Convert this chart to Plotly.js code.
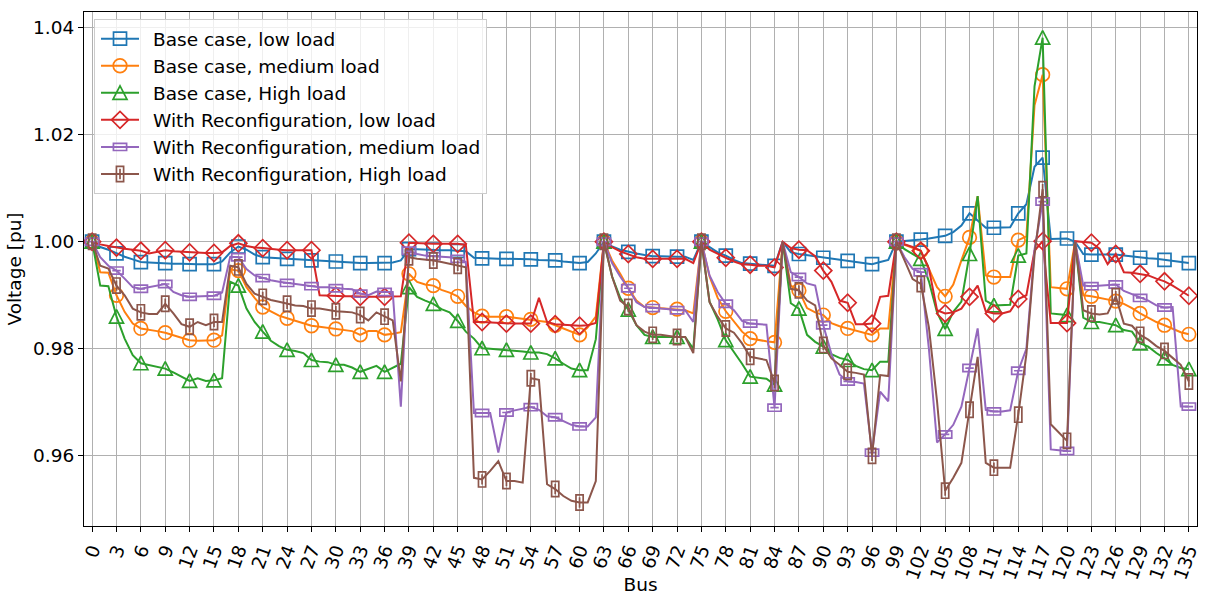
<!DOCTYPE html>
<html>
<head>
<meta charset="utf-8">
<script src="https://cdn.plot.ly/plotly-3.0.1.min.js"></script>
<style>
  html, body { margin: 0; padding: 0; background: #fff; }
  #chart { width: 1207px; height: 595px; }
</style>
</head>
<body>
<div id="chart"></div>
<script>
// Bus numbers 0..135 along the feeder
const bus = [];
for (let b = 0; b <= 135; b++) bus.push(b);

// Labelled ticks every third bus
const xTickVals = bus.filter(b => b % 3 === 0);
const yTickVals = [0.96, 0.98, 1.00, 1.02, 1.04];
const yTickText = ['0.96', '0.98', '1.00', '1.02', '1.04'];

const seriesNames = [
  'Base case, low load',
  'Base case, medium load',
  'Base case, High load',
  'With Reconfiguration, low load',
  'With Reconfiguration, medium load',
  'With Reconfiguration, High load'
];

// Bus voltages [pu]
const baseLow = [
  1.0000, 0.9990, 0.9985, 0.9978, 0.9972, 0.9967, 0.9962, 0.9961, 0.9960, 0.9960,
  0.9959, 0.9959, 0.9958, 0.9958, 0.9958, 0.9958, 0.9963, 0.9980, 0.9991, 0.9985,
  0.9976, 0.9971, 0.9970, 0.9969, 0.9968, 0.9967, 0.9966, 0.9965, 0.9964, 0.9963,
  0.9963, 0.9962, 0.9961, 0.9960, 0.9960, 0.9960, 0.9960, 0.9961, 0.9965, 0.9986,
  0.9986, 0.9985, 0.9985, 0.9984, 0.9984, 0.9983, 0.9982, 0.9970, 0.9969, 0.9969,
  0.9968, 0.9968, 0.9968, 0.9967, 0.9967, 0.9966, 0.9966, 0.9965, 0.9963, 0.9961,
  0.9960, 0.9962, 0.9978, 1.0000, 0.9991, 0.9985, 0.9981, 0.9978, 0.9975, 0.9973,
  0.9973, 0.9972, 0.9972, 0.9972, 0.9966, 1.0000, 0.9990, 0.9980, 0.9974, 0.9966,
  0.9960, 0.9959, 0.9958, 0.9957, 0.9955, 1.0000, 0.9980, 0.9977, 0.9975, 0.9972,
  0.9970, 0.9968, 0.9966, 0.9964, 0.9962, 0.9960, 0.9958, 0.9962, 0.9966, 1.0000,
  1.0001, 1.0003, 1.0004, 1.0006, 1.0008, 1.0011, 1.0018, 1.0030, 1.0053, 1.0040,
  1.0026, 1.0026, 1.0026, 1.0027, 1.0053, 1.0070, 1.0140, 1.0157, 1.0005, 1.0005,
  1.0006, 1.0000, 0.9977, 0.9976, 0.9976, 0.9975, 0.9976, 0.9974, 0.9972, 0.9970,
  0.9969, 0.9968, 0.9966, 0.9965, 0.9962, 0.9960
];

const baseMed = [
  1.0000, 0.9943, 0.9942, 0.9900, 0.9869, 0.9847, 0.9838, 0.9836, 0.9833, 0.9830,
  0.9825, 0.9820, 0.9816, 0.9815, 0.9815, 0.9816, 0.9825, 0.9948, 0.9946, 0.9915,
  0.9895, 0.9878, 0.9870, 0.9862, 0.9857, 0.9852, 0.9847, 0.9843, 0.9841, 0.9839,
  0.9837, 0.9835, 0.9833, 0.9826, 0.9833, 0.9833, 0.9826, 0.9828, 0.9831, 0.9940,
  0.9925, 0.9920, 0.9918, 0.9910, 0.9905, 0.9898, 0.9880, 0.9868, 0.9861, 0.9860,
  0.9860, 0.9860, 0.9858, 0.9856, 0.9855, 0.9853, 0.9850, 0.9844, 0.9838, 0.9832,
  0.9826, 0.9840, 0.9860, 1.0000, 0.9965, 0.9940, 0.9913, 0.9890, 0.9878, 0.9877,
  0.9876, 0.9875, 0.9874, 0.9872, 0.9866, 1.0000, 0.9935, 0.9895, 0.9870, 0.9850,
  0.9832, 0.9819, 0.9816, 0.9814, 0.9812, 1.0000, 0.9918, 0.9909, 0.9876, 0.9868,
  0.9863, 0.9848, 0.9842, 0.9838, 0.9833, 0.9829, 0.9826, 0.9838, 0.9838, 1.0000,
  0.9994, 0.9989, 0.9983, 0.9949, 0.9915, 0.9898, 0.9920, 0.9965, 1.0008, 1.0085,
  0.9937, 0.9934, 0.9934, 0.9934, 1.0003, 1.0010, 1.0255, 1.0312, 0.9915, 0.9914,
  0.9912, 1.0000, 0.9900, 0.9898, 0.9895, 0.9892, 0.9889, 0.9884, 0.9876, 0.9866,
  0.9858, 0.9850, 0.9844, 0.9838, 0.9831, 0.9827
];

const baseHigh = [
  1.0000, 0.9918, 0.9917, 0.9860, 0.9819, 0.9788, 0.9773, 0.9770, 0.9767, 0.9763,
  0.9756, 0.9748, 0.9740, 0.9745, 0.9740, 0.9741, 0.9745, 0.9925, 0.9918, 0.9875,
  0.9850, 0.9832, 0.9815, 0.9805, 0.9798, 0.9796, 0.9792, 0.9779, 0.9776, 0.9775,
  0.9770, 0.9770, 0.9765, 0.9757, 0.9763, 0.9768, 0.9757, 0.9765, 0.9772, 0.9915,
  0.9897, 0.9890, 0.9884, 0.9874, 0.9868, 0.9852, 0.9832, 0.9819, 0.9801, 0.9800,
  0.9799, 0.9798, 0.9796, 0.9795, 0.9793, 0.9793, 0.9790, 0.9782, 0.9772, 0.9763,
  0.9760, 0.9760, 0.9818, 1.0000, 0.9935, 0.9895, 0.9873, 0.9844, 0.9826, 0.9822,
  0.9822, 0.9822, 0.9822, 0.9822, 0.9800, 1.0000, 0.9888, 0.9855, 0.9816, 0.9795,
  0.9772, 0.9748, 0.9746, 0.9744, 0.9733, 1.0000, 0.9885, 0.9875, 0.9826, 0.9813,
  0.9804, 0.9790, 0.9783, 0.9779, 0.9768, 0.9762, 0.9760, 0.9776, 0.9776, 1.0000,
  0.9986, 0.9977, 0.9968, 0.9926, 0.9868, 0.9837, 0.9869, 0.9888, 0.9977, 1.0085,
  0.9890, 0.9881, 0.9881, 0.9882, 0.9974, 0.9978, 1.0290, 1.0381, 0.9866, 0.9865,
  0.9863, 1.0000, 0.9858, 0.9850, 0.9850, 0.9847, 0.9844, 0.9835, 0.9832, 0.9810,
  0.9804, 0.9792, 0.9782, 0.9770, 0.9764, 0.9762
];

const reconfLow = [
  1.0000, 0.9995, 0.9992, 0.9989, 0.9987, 0.9985, 0.9983, 0.9978, 0.9981, 0.9984,
  0.9982, 0.9981, 0.9980, 0.9979, 0.9979, 0.9979, 0.9980, 0.9992, 0.9997, 0.9992,
  0.9989, 0.9988, 0.9986, 0.9985, 0.9984, 0.9984, 0.9984, 0.9984, 0.9900, 0.9899,
  0.9899, 0.9898, 0.9898, 0.9897, 0.9897, 0.9897, 0.9897, 0.9898, 0.9898, 0.9998,
  0.9997, 0.9996, 0.9996, 0.9996, 0.9996, 0.9996, 0.9994, 0.9850, 0.9850, 0.9849,
  0.9848, 0.9847, 0.9847, 0.9847, 0.9847, 0.9895, 0.9850, 0.9846, 0.9845, 0.9844,
  0.9843, 0.9844, 0.9848, 1.0000, 0.9990, 0.9982, 0.9977, 0.9971, 0.9968, 0.9968,
  0.9968, 0.9968, 0.9968, 0.9968, 0.9960, 1.0000, 0.9985, 0.9977, 0.9970, 0.9963,
  0.9958, 0.9957, 0.9955, 0.9955, 0.9952, 1.0000, 0.9988, 0.9985, 0.9984, 0.9973,
  0.9946, 0.9925, 0.9890, 0.9886, 0.9846, 0.9846, 0.9847, 0.9897, 0.9899, 1.0000,
  0.9995, 0.9990, 0.9983, 0.9950, 0.9872, 0.9866, 0.9868, 0.9875, 0.9897, 0.9918,
  0.9870, 0.9866, 0.9866, 0.9870, 0.9893, 0.9900, 0.9983, 1.0001, 0.9848, 0.9848,
  0.9848, 1.0001, 0.9999, 0.9998, 0.9987, 0.9958, 0.9977, 0.9943, 0.9942, 0.9940,
  0.9937, 0.9931, 0.9926, 0.9918, 0.9909, 0.9899
];

const reconfMed = [
  1.0000, 0.9971, 0.9955, 0.9946, 0.9931, 0.9915, 0.9912, 0.9915, 0.9918, 0.9921,
  0.9906, 0.9900, 0.9897, 0.9898, 0.9899, 0.9899, 0.9905, 0.9972, 0.9971, 0.9949,
  0.9937, 0.9932, 0.9928, 0.9925, 0.9923, 0.9921, 0.9919, 0.9917, 0.9915, 0.9915,
  0.9913, 0.9912, 0.9911, 0.9903, 0.9900, 0.9907, 0.9906, 0.9906, 0.9692, 0.9983,
  0.9977, 0.9974, 0.9973, 0.9972, 0.9971, 0.9968, 0.9962, 0.9680, 0.9680, 0.9680,
  0.9606, 0.9681, 0.9685, 0.9688, 0.9691, 0.9686, 0.9674, 0.9672, 0.9665, 0.9658,
  0.9655, 0.9655, 0.9672, 1.0000, 0.9960, 0.9935, 0.9913, 0.9887, 0.9878, 0.9876,
  0.9875, 0.9874, 0.9872, 0.9872, 0.9850, 1.0000, 0.9937, 0.9906, 0.9884, 0.9872,
  0.9852, 0.9847, 0.9846, 0.9845, 0.9690, 1.0000, 0.9943, 0.9934, 0.9922, 0.9918,
  0.9844, 0.9790, 0.9752, 0.9739, 0.9738, 0.9735, 0.9606, 0.9720, 0.9702, 1.0000,
  0.9971, 0.9949, 0.9943, 0.9800, 0.9625, 0.9640, 0.9658, 0.9692, 0.9764, 0.9838,
  0.9686, 0.9683, 0.9683, 0.9685, 0.9759, 0.9800, 0.9985, 1.0075, 0.9612, 0.9610,
  0.9609, 1.0000, 0.9918, 0.9917, 0.9918, 0.9919, 0.9920, 0.9908, 0.9902, 0.9895,
  0.9890, 0.9881, 0.9877, 0.9878, 0.9692, 0.9692
];

const reconfHigh = [
  1.0000, 0.9955, 0.9950, 0.9918, 0.9900, 0.9875, 0.9868, 0.9865, 0.9865, 0.9884,
  0.9866, 0.9846, 0.9841, 0.9850, 0.9844, 0.9850, 0.9850, 0.9955, 0.9952, 0.9921,
  0.9903, 0.9897, 0.9891, 0.9888, 0.9884, 0.9881, 0.9880, 0.9875, 0.9875, 0.9872,
  0.9870, 0.9869, 0.9868, 0.9863, 0.9853, 0.9868, 0.9860, 0.9853, 0.9739, 0.9971,
  0.9968, 0.9967, 0.9965, 0.9962, 0.9959, 0.9955, 0.9952, 0.9559, 0.9556, 0.9572,
  0.9590, 0.9553, 0.9553, 0.9550, 0.9745, 0.9742, 0.9547, 0.9538, 0.9525, 0.9516,
  0.9513, 0.9513, 0.9553, 1.0000, 0.9935, 0.9890, 0.9878, 0.9844, 0.9832, 0.9826,
  0.9826, 0.9824, 0.9822, 0.9822, 0.9792, 1.0000, 0.9887, 0.9860, 0.9838, 0.9830,
  0.9810, 0.9785, 0.9782, 0.9779, 0.9736, 1.0000, 0.9912, 0.9909, 0.9890, 0.9881,
  0.9807, 0.9782, 0.9770, 0.9757, 0.9755, 0.9752, 0.9600, 0.9751, 0.9749, 1.0000,
  0.9965, 0.9930, 0.9921, 0.9840, 0.9702, 0.9535, 0.9559, 0.9587, 0.9686, 0.9785,
  0.9587, 0.9578, 0.9578, 0.9578, 0.9677, 0.9790, 0.9975, 1.0098, 0.9659, 0.9643,
  0.9628, 1.0000, 0.9872, 0.9866, 0.9864, 0.9866, 0.9898, 0.9847, 0.9843, 0.9826,
  0.9817, 0.9805, 0.9796, 0.9783, 0.9770, 0.9739
];

const seriesValues = [baseLow, baseMed, baseHigh, reconfLow, reconfMed, reconfHigh];
const seriesColors = ['#1f77b4', '#ff7f0e', '#2ca02c', '#d62728', '#9467bd', '#8c564b'];
const seriesShapes = ['square', 'circle', 'triangle', 'diamond', 'wide', 'tall'];

// Outline paths for the open markers (centred on the point)
const MARKER_PATHS = {
  square:   'M6.5,6.5H-6.5V-6.5H6.5Z',
  circle:   'M6.8,0A6.8,6.8 0 1,1 0,-6.8A6.8,6.8 0 0,1 6.8,0Z',
  triangle: 'M0,-7L7,6.5H-7Z',
  diamond:  'M8.5,0L0,8.5L-8.5,0L0,-8.5Z',
  wide:     'M-6.6,-3.6H6.6V3.6H-6.6Z M-4.2,0H4.2',
  tall:     'M-3.6,-7.6H3.6V7.6H-3.6Z M0,-5.2V5.2'
};

const LINE_W = 2;
const MARK_W = 1.7;
const TEXT_SIZE = 18.5;

const traces = [];
seriesValues.forEach((vals, k) => {
  // full voltage profile
  traces.push({
    type: 'scatter', mode: 'lines', x: bus, y: vals,
    line: { color: seriesColors[k], width: LINE_W },
    showlegend: false, hoverinfo: 'skip'
  });
  // markers on every third bus
  const mx = [], my = [];
  bus.forEach((b, i) => { if (b % 3 === 0) { mx.push(b); my.push(vals[i]); } });
  traces.push({
    type: 'scatter', mode: 'markers', x: mx, y: my, meta: seriesShapes[k],
    marker: { symbol: 'square-open', size: 13, color: seriesColors[k],
              line: { color: seriesColors[k], width: MARK_W } },
    showlegend: false, hoverinfo: 'skip'
  });
});
// legend entries
seriesNames.forEach((name, k) => {
  traces.push({
    type: 'scatter', mode: 'lines+markers', x: [null], y: [null], name: name,
    meta: seriesShapes[k],
    line: { color: seriesColors[k], width: LINE_W },
    marker: { symbol: 'square-open', size: 13, color: seriesColors[k],
              line: { color: seriesColors[k], width: MARK_W } },
    hoverinfo: 'skip'
  });
});

const axisCommon = {
  showgrid: true, gridcolor: '#b0b0b0', gridwidth: 1,
  zeroline: false, showline: true, mirror: true, linecolor: '#000', linewidth: 1,
  ticks: 'outside', ticklen: 5, tickwidth: 1, tickcolor: '#000',
  tickfont: { size: TEXT_SIZE, color: '#000' }, automargin: false
};

const layout = {
  width: 1207, height: 595,
  margin: { l: 84, r: 10, t: 12, b: 69, pad: 0 },
  paper_bgcolor: '#ffffff', plot_bgcolor: '#ffffff',
  font: { family: 'DejaVu Sans, sans-serif', size: TEXT_SIZE, color: '#000' },
  showlegend: true,
  hovermode: false,
  legend: {
    x: 0.009, y: 0.986, xanchor: 'left', yanchor: 'top',
    bgcolor: 'rgba(255,255,255,0.8)', bordercolor: '#cccccc', borderwidth: 1,
    font: { size: TEXT_SIZE, color: '#000' }, itemwidth: 48, traceorder: 'normal'
  },
  xaxis: Object.assign({}, axisCommon, {
    range: [-1, 136], tickmode: 'array', tickvals: xTickVals,
    ticktext: xTickVals.map(String), tickangle: -70,
    title: { text: 'Bus', standoff: 10, font: { size: TEXT_SIZE } }
  }),
  yaxis: Object.assign({}, axisCommon, {
    range: [0.9469, 1.0429], tickmode: 'array', tickvals: yTickVals, ticktext: yTickText,
    title: { text: 'Voltage [pu]', standoff: 6, font: { size: TEXT_SIZE } }
  })
};

// Swap the square placeholders for the proper outline of each series
function applyMarkerShapes(gd) {
  gd.querySelectorAll('.scatterlayer g.trace').forEach(g => {
    const cd = g.__data__;
    const tr = cd && cd[0] && cd[0].trace;
    if (!tr || !MARKER_PATHS[tr.meta]) return;
    g.querySelectorAll('path.point').forEach(p => {
      p.setAttribute('d', MARKER_PATHS[tr.meta]);
      p.style.fill = 'none';
    });
  });
  gd.querySelectorAll('.legend g.traces').forEach(g => {
    const d = g.__data__;
    const tr = d && d[0] && d[0].trace;
    if (!tr || !MARKER_PATHS[tr.meta]) return;
    g.querySelectorAll('path.js-line').forEach(p => p.setAttribute('d', 'M6,0h38'));
    g.querySelectorAll('path.scatterpts').forEach(p => {
      p.setAttribute('d', MARKER_PATHS[tr.meta]);
      p.setAttribute('transform', 'translate(25,0)');
      p.style.fill = 'none';
    });
  });
}

const gd = document.getElementById('chart');
Plotly.newPlot(gd, traces, layout, { displayModeBar: false, staticPlot: true }).then(() => {
  applyMarkerShapes(gd);
  gd.on('plotly_afterplot', () => applyMarkerShapes(gd));
});
</script>
</body>
</html>
